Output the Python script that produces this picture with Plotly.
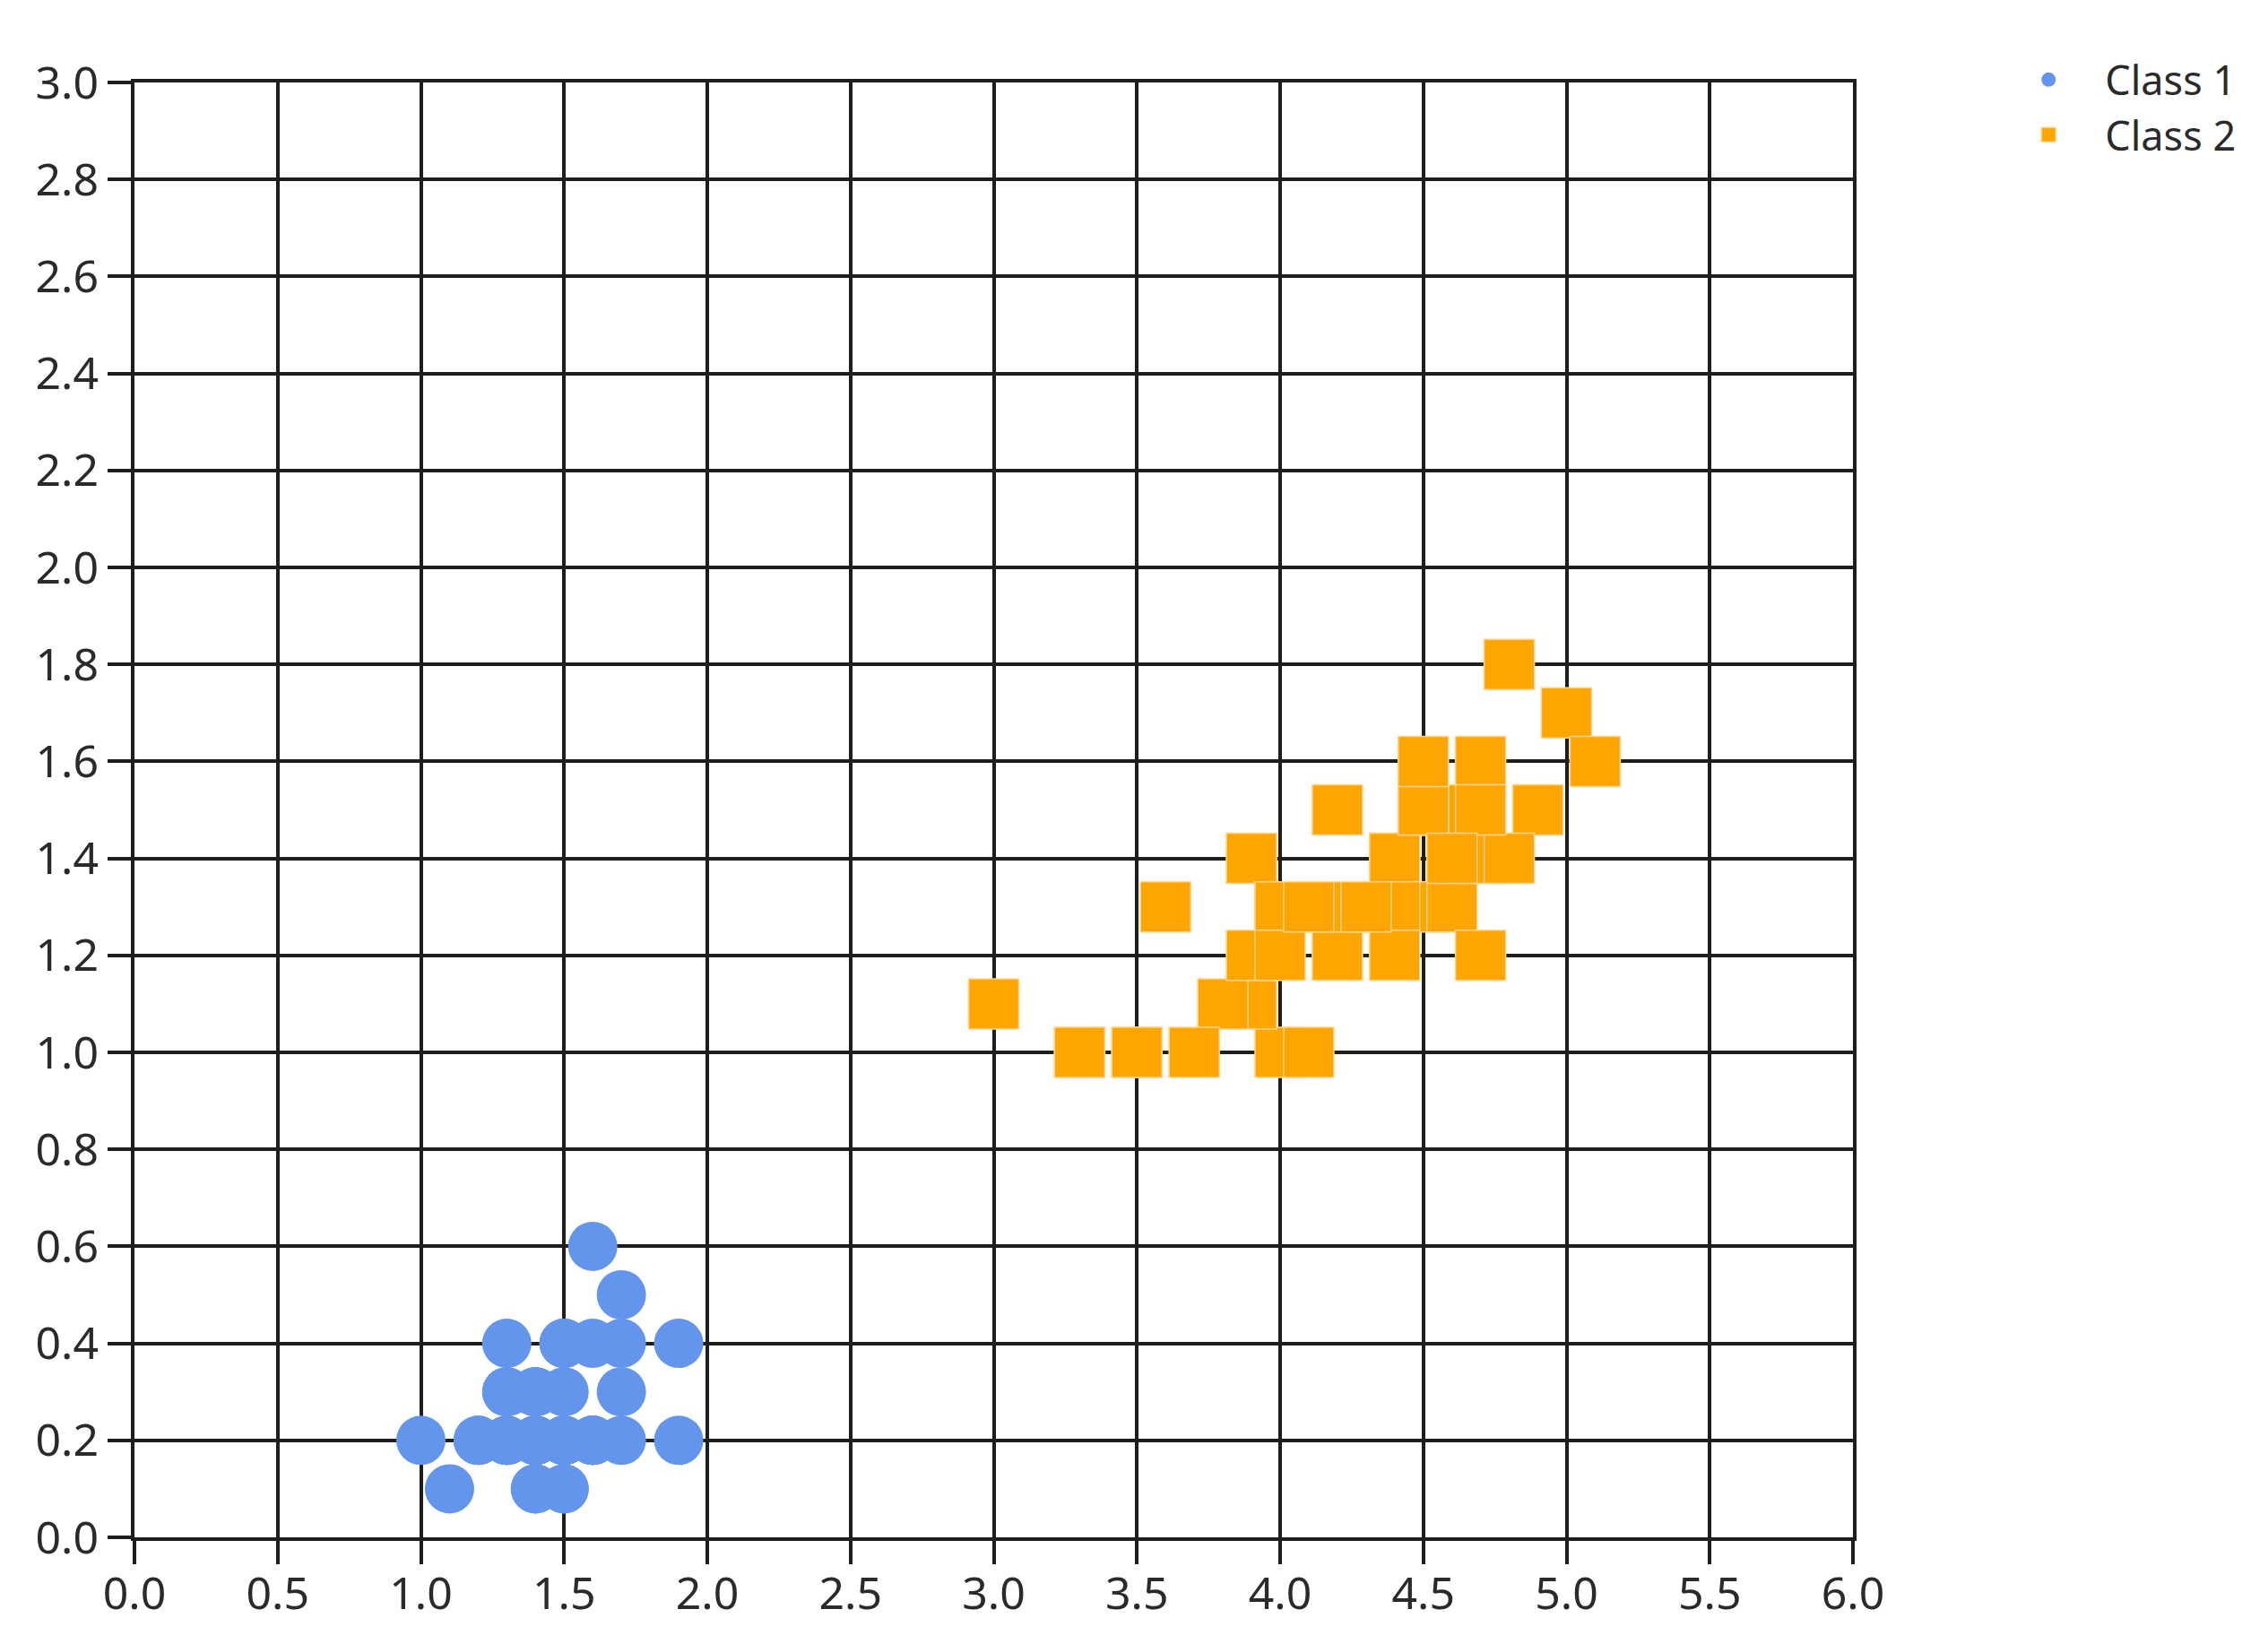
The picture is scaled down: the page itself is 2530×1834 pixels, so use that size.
import plotly.graph_objects as go

# Class 1 (petal length, petal width)
class1_x = [1.4,1.4,1.3,1.5,1.4,1.7,1.4,1.5,1.4,1.5,1.5,1.6,1.4,1.1,1.2,1.5,1.3,1.4,1.7,1.5,
            1.7,1.5,1.0,1.7,1.9,1.6,1.6,1.5,1.4,1.6,1.6,1.5,1.5,1.4,1.5,1.2,1.3,1.4,1.3,1.5,
            1.3,1.3,1.3,1.6,1.9,1.4,1.6,1.4,1.5,1.4]
class1_y = [0.2,0.2,0.2,0.2,0.2,0.4,0.3,0.2,0.2,0.1,0.2,0.2,0.1,0.1,0.2,0.4,0.4,0.3,0.3,0.3,
            0.2,0.4,0.2,0.5,0.2,0.2,0.4,0.2,0.2,0.2,0.2,0.4,0.1,0.2,0.2,0.2,0.2,0.1,0.2,0.2,
            0.3,0.3,0.2,0.6,0.4,0.3,0.2,0.2,0.2,0.2]

# Class 2
class2_x = [4.7,4.5,4.9,4.0,4.6,4.5,4.7,3.3,4.6,3.9,3.5,4.2,4.0,4.7,3.6,4.4,4.5,4.1,4.5,3.9,
            4.8,4.0,4.9,4.7,4.3,4.4,4.8,5.0,4.5,3.5,3.8,3.7,3.9,5.1,4.5,4.5,4.7,4.4,4.1,4.0,
            4.4,4.6,4.0,3.3,4.2,4.2,4.2,4.3,3.0,4.1]
class2_y = [1.4,1.5,1.5,1.3,1.5,1.3,1.6,1.0,1.3,1.4,1.0,1.5,1.0,1.4,1.3,1.4,1.5,1.0,1.5,1.1,
            1.8,1.3,1.5,1.2,1.3,1.4,1.4,1.7,1.5,1.0,1.1,1.0,1.2,1.6,1.5,1.6,1.5,1.3,1.3,1.3,
            1.2,1.4,1.2,1.0,1.3,1.2,1.3,1.3,1.1,1.3]

x_ticks = [0.0,0.5,1.0,1.5,2.0,2.5,3.0,3.5,4.0,4.5,5.0,5.5,6.0]
y_ticks = [0.0,0.2,0.4,0.6,0.8,1.0,1.2,1.4,1.6,1.8,2.0,2.2,2.4,2.6,2.8,3.0]

fig = go.Figure()
fig.add_trace(go.Scatter(x=class1_x, y=class1_y, mode="markers", name="Class 1",
                         marker=dict(symbol="circle", size=55, color="#6495ED",
                                     line=dict(width=0))))
fig.add_trace(go.Scatter(x=class2_x, y=class2_y, mode="markers", name="Class 2",
                         marker=dict(symbol="square", size=56, color="#FFA500",
                                     line=dict(width=1.5, color="#FFD590"))))

axis_common = dict(
    showgrid=True, gridcolor="#1e1e1e", gridwidth=4,
    showline=True, linecolor="#1e1e1e", linewidth=4, mirror=True,
    ticks="outside", ticklen=26, tickwidth=4, tickcolor="#1e1e1e",
    zeroline=False,
    tickfont=dict(family="Noto Sans", size=50, color="#2a2a2a"),
)

fig.update_xaxes(range=[0, 6], tickvals=x_ticks, ticklabelstandoff=-10,
                 ticktext=[f"{v:.1f}" for v in x_ticks], **axis_common)
fig.update_yaxes(range=[0, 3], tickvals=y_ticks,
                 ticktext=[f"{v:.1f}" for v in y_ticks], **axis_common)

fig.update_layout(
    width=2530, height=1834,
    margin=dict(l=142, r=471, t=84, b=127, pad=0),
    plot_bgcolor="white", paper_bgcolor="white",
    showlegend=True,
    legend=dict(x=1.081, y=1.024, xanchor="left", yanchor="top",
                font=dict(family="Noto Sans", size=45, color="#2a2a2a"),
                tracegroupgap=0, itemwidth=116, bgcolor="rgba(0,0,0,0)"),
)

fig.write_html("out.html")
